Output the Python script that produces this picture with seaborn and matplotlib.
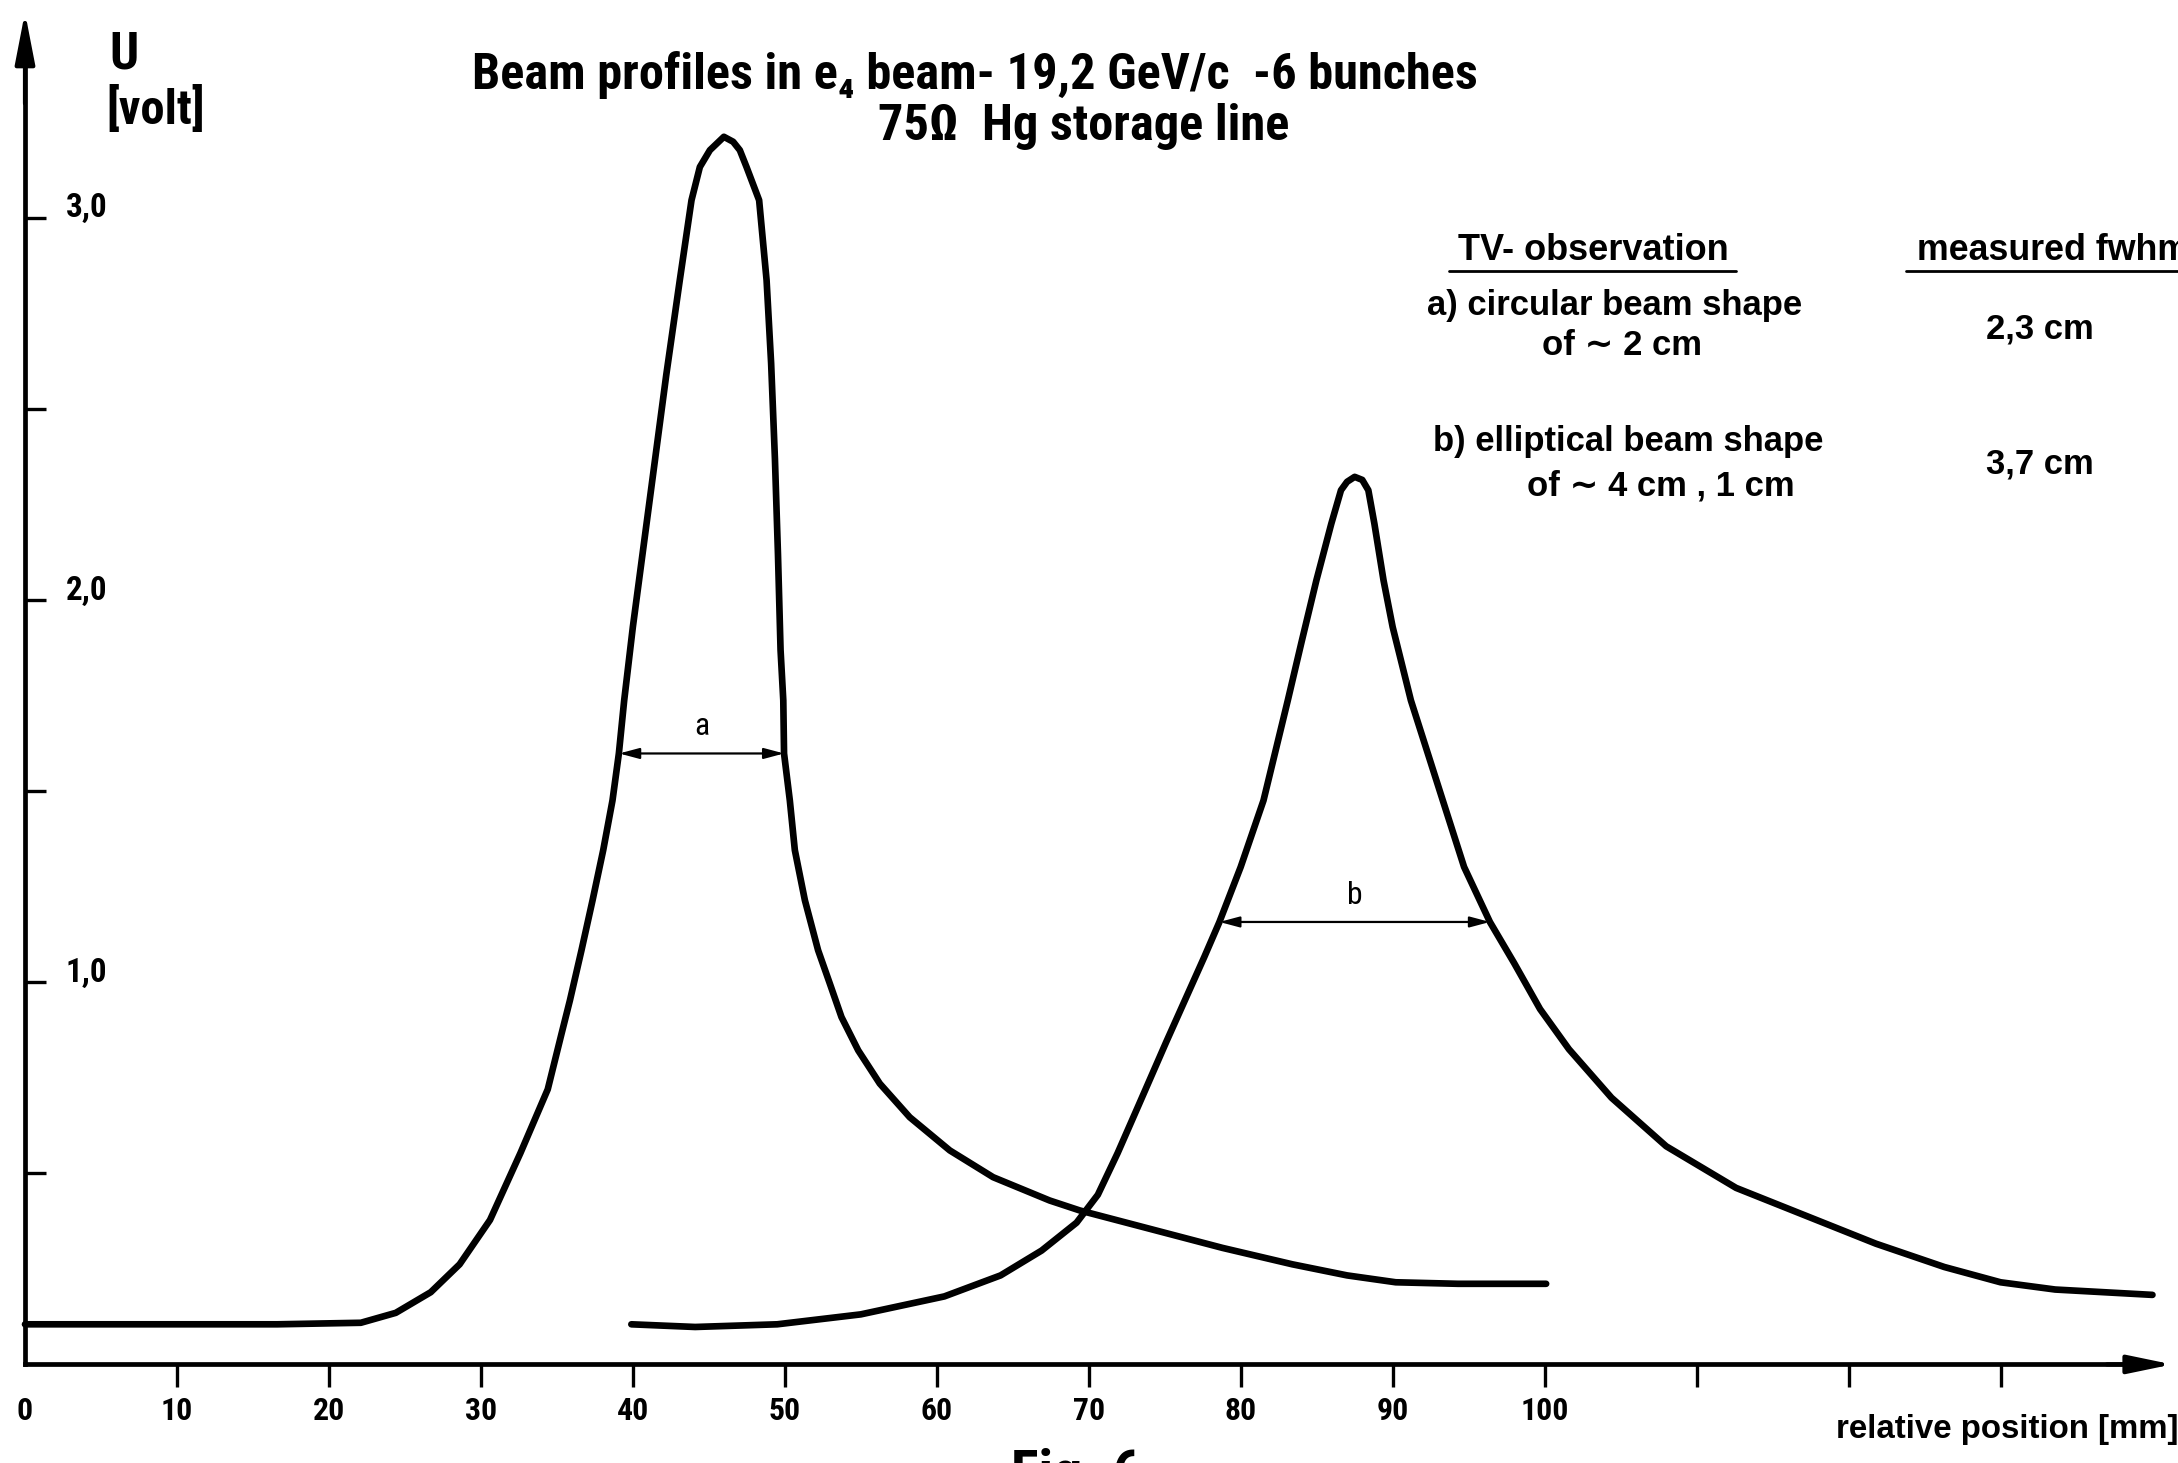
import matplotlib
matplotlib.use("Agg")
import matplotlib.pyplot as plt
import matplotlib.transforms as mtransforms
from matplotlib import font_manager as fm
import pandas as pd
import seaborn as sns

# ---------------- data ----------------
pos_a = [0, 7.5, 16.6, 22.1, 24.4, 26.7, 28.6, 30.6, 32.6, 34.4, 35.31, 35.86, 36.62,
         37.35, 38.05, 38.66, 39.08, 39.43, 40.0, 40.7, 41.4, 42.2, 43.09, 43.86, 44.41,
         45.07, 45.99, 46.6, 47.04, 47.48, 48.31, 48.8, 49.1, 49.35, 49.55, 49.72, 49.9,
         49.95, 50.33, 50.66, 51.32, 52.19, 52.96, 53.73, 54.83, 56.25, 58.22, 60.86,
         63.71, 67.43, 69.41, 74.2, 78.8, 83.4, 87.0, 90.2, 94.3, 100.1]
u_a = [0.105, 0.105, 0.105, 0.109, 0.135, 0.189, 0.262, 0.378, 0.553, 0.720, 0.866,
       0.953, 1.084, 1.215, 1.346, 1.476, 1.599, 1.738, 1.93, 2.14, 2.35, 2.59, 2.838,
       3.047, 3.134, 3.178, 3.213, 3.20, 3.178, 3.134, 3.047, 2.838, 2.62, 2.37, 2.12,
       1.87, 1.738, 1.599, 1.476, 1.346, 1.215, 1.084, 0.997, 0.909, 0.822, 0.735,
       0.647, 0.560, 0.490, 0.429, 0.403, 0.353, 0.305, 0.262, 0.233, 0.215, 0.211,
       0.211]

pos_b = [39.9, 44.1, 49.5, 55.0, 60.5, 64.2, 66.9, 69.2, 70.6, 71.9, 73.3, 75.1, 77.6,
         78.6, 80.0, 81.5, 83.1, 84.0, 84.98, 85.96, 86.6, 87.0, 87.5, 88.0, 88.4, 88.8,
         89.4, 90.0, 91.2, 93.3, 94.7, 96.4, 98.0, 99.7, 101.6, 104.4, 108.0, 112.6,
         117.2, 121.8, 126.3, 130.0, 133.6, 140.0]
u_b = [0.105, 0.098, 0.105, 0.131, 0.178, 0.233, 0.298, 0.371, 0.444, 0.553, 0.680,
       0.844, 1.066, 1.158, 1.302, 1.476, 1.738, 1.89, 2.052, 2.20, 2.288, 2.31, 2.323,
       2.315, 2.288, 2.20, 2.052, 1.93, 1.738, 1.476, 1.302, 1.158, 1.05, 0.93, 0.825,
       0.698, 0.571, 0.462, 0.389, 0.316, 0.255, 0.215, 0.196, 0.182]

# fwhm markers: (left, right, level)
fwhm_a = (39.1, 49.95, 1.599)
fwhm_b = (78.6, 96.4, 1.158)

xtick_pos = [0, 10, 20, 30, 40, 50, 60, 70, 80, 90, 100, 110, 120, 130]
xtick_labels = ["0", "10", "20", "30", "40", "50", "60", "70", "80", "90", "100", "", "", ""]
ytick_pos = [0.5, 1.0, 1.5, 2.0, 2.5, 3.0]
ytick_labels = ["", "1,0", "", "2,0", "", "3,0"]

title_1 = "Beam profiles in e\u2084 beam- 19,2 GeV/c  -6 bunches"
title_2 = "75\u03a9  Hg storage line"
obs_header = "TV- observation"
fwhm_header = "measured fwhm"
obs_a = ["a) circular beam shape", "of \u223c 2 cm"]
obs_b = ["b) elliptical beam shape", "of \u223c 4 cm , 1 cm"]
fwhm_vals = ["2,3 cm", "3,7 cm"]

# ---------------- style ----------------
sns.set_theme(style="white")


def has_family(name):
    try:
        fm.findfont(fm.FontProperties(family=name), fallback_to_default=False)
        return True
    except Exception:
        return False


NK = {"family": ["Liberation Sans", "DejaVu Sans"], "stretch": "normal"}
found = False
for cand in ["Liberation Sans Narrow", "Noto Sans Condensed", "DejaVu Sans Condensed",
             "Roboto Condensed", "Open Sans Condensed"]:
    if has_family(cand):
        NK = {"family": [cand, "DejaVu Sans"], "stretch": "normal"}
        found = True
        break
if not found:
    for cand in ["Noto Sans", "DejaVu Sans", "Open Sans", "Roboto"]:
        try:
            p = fm.findfont(fm.FontProperties(family=cand, stretch="condensed"),
                            fallback_to_default=False)
            if "ondensed" in p or "arrow" in p:
                NK = {"family": [cand, "DejaVu Sans"], "stretch": "condensed"}
                break
        except Exception:
            pass
# wider lettering used for the annotation block on the right
WK = {"family": ["Liberation Sans", "DejaVu Sans"], "stretch": "normal"}

plt.rcParams["font.family"] = NK["family"]
for k in ("text.color", "xtick.color", "ytick.color", "axes.edgecolor"):
    plt.rcParams[k] = "black"

W, H = 2178, 1463
S = W / 1568  # reference-preview pixel -> output pixel
fig = plt.figure(figsize=(W / 100, H / 100), dpi=100)
ax = fig.add_axes([0, 0, 1, 1])
ax.set_facecolor("white")
fig.patch.set_facecolor("white")
renderer = fig.canvas.get_renderer()

ax.set_xlim(-1.645, 141.68)
ax.set_ylim(-0.258, 3.571)

df_a = pd.DataFrame({"pos": pos_a, "u": u_a})
df_b = pd.DataFrame({"pos": pos_b, "u": u_b})
for d in (df_a, df_b):
    sns.lineplot(data=d, x="pos", y="u", sort=False, estimator=None, ax=ax,
                 color="black", lw=4.8, solid_capstyle="round",
                 solid_joinstyle="round")

# spines as axes through the origin
for s in ("top", "right"):
    ax.spines[s].set_visible(False)
ax.spines["left"].set_position(("data", 0))
ax.spines["bottom"].set_position(("data", 0))
ax.spines["left"].set_bounds(0, 3.40)
ax.spines["bottom"].set_bounds(0, 139.0)
for s in ("left", "bottom"):
    ax.spines[s].set_linewidth(3.4)
    ax.spines[s].set_color("black")

# axis arrow heads
ax.annotate("", xy=(141.3, 0), xytext=(137.0, 0),
            arrowprops=dict(arrowstyle="-|>,head_length=1.35,head_width=0.28",
                            mutation_scale=20, lw=3.0, color="black",
                            shrinkA=0, shrinkB=0))
ax.annotate("", xy=(0, 3.539), xytext=(0, 3.30),
            arrowprops=dict(arrowstyle="-|>,head_length=1.55,head_width=0.3",
                            mutation_scale=20, lw=3.0, color="black",
                            shrinkA=0, shrinkB=0))


def fitted_size(s, width_ref, kw, weight="bold", base=20):
    t = fig.text(0, 0, s, fontsize=base, weight=weight, **kw)
    w = t.get_window_extent(renderer).width
    t.remove()
    return base * width_ref * S / w


# x ticks
xsize = fitted_size("100", 34.6, NK)
ax.set_xticks(xtick_pos)
ax.set_xticklabels(xtick_labels, fontsize=xsize, weight="bold", **NK)
ax.tick_params(axis="x", direction="out", length=16.5, width=2.4, pad=6,
               colors="black", bottom=True)
ax.xaxis.get_major_ticks()[0].tick1line.set_visible(False)

# y ticks (labels drawn to the right of the axis)
ysize = fitted_size("3,0", 30, NK)
ax.set_yticks(ytick_pos)
ax.set_yticklabels([""] * len(ytick_pos))
ax.tick_params(axis="y", direction="in", length=15, width=2.4, colors="black", left=True)
lab_off = ax.transData + mtransforms.ScaledTranslation(29.5 / 72, 7 / 72, fig.dpi_scale_trans)
for v, lab in zip(ytick_pos, ytick_labels):
    if lab:
        ax.text(0, v, lab, transform=lab_off, ha="left", va="center",
                fontsize=ysize, weight="bold", color="black", **NK)
ax.grid(False)
ax.set_xlabel("")
ax.set_ylabel("")

# fwhm arrows
for (x0, x1, lev), name in ((fwhm_a, "a"), (fwhm_b, "b")):
    ax.annotate("", xy=(x0, lev), xytext=(x1, lev),
                arrowprops=dict(arrowstyle="<|-|>,head_length=0.6,head_width=0.16",
                                mutation_scale=20, lw=1.6, color="black",
                                shrinkA=0, shrinkB=0))
    ax.text((x0 + x1) / 2, lev + 0.07, name, ha="center", va="center",
            fontsize=xsize, color="black", **NK)


# ---------------- figure texts (positions in reference-preview pixels, 1568x1053) ----------------
def place(px, py, s, width_ref, kw, ha="left", va="center", weight="bold", size=None):
    if size is None:
        size = fitted_size(s, width_ref, kw, weight=weight)
    fig.text(px / 1568, 1 - py / 1053, s, ha=ha, va=va, fontsize=size,
             weight=weight, color="black", **kw)
    return size


place(89, 49, "U", 21, NK, ha="center", va="baseline")
place(112, 79, "[volt]", 71, NK, ha="center")

tsize = place(702, 64, title_1, 722, NK, ha="center", va="baseline")
place(780, 101, title_2, None, NK, ha="center", va="baseline", size=tsize)

place(1147, 180, obs_header, 195, WK, ha="center")
place(1380, 180, fwhm_header, 196, WK)
fig.add_artist(plt.Line2D([1043 / 1568, 1250 / 1568], [1 - 195 / 1053] * 2,
                          transform=fig.transFigure, color="black", lw=2.0))
fig.add_artist(plt.Line2D([1372 / 1568, 1.0], [1 - 195 / 1053] * 2,
                          transform=fig.transFigure, color="black", lw=2.0))

rsize = place(1027, 220, obs_a[0], 270, WK)
place(1168, 249, obs_a[1], None, WK, ha="center", size=rsize)
place(1430, 237, fwhm_vals[0], None, WK, size=rsize)
place(1032, 318, obs_b[0], None, WK, size=rsize)
place(1196, 350, obs_b[1], None, WK, ha="center", size=rsize)
place(1430, 334, fwhm_vals[1], None, WK, size=rsize)

place(1322, 1029, "relative position [mm]", 246, WK)
place(728, 1073, "Fig. 6", 94, NK, va="baseline")

fig.savefig("out.png", dpi=100, facecolor="white")
